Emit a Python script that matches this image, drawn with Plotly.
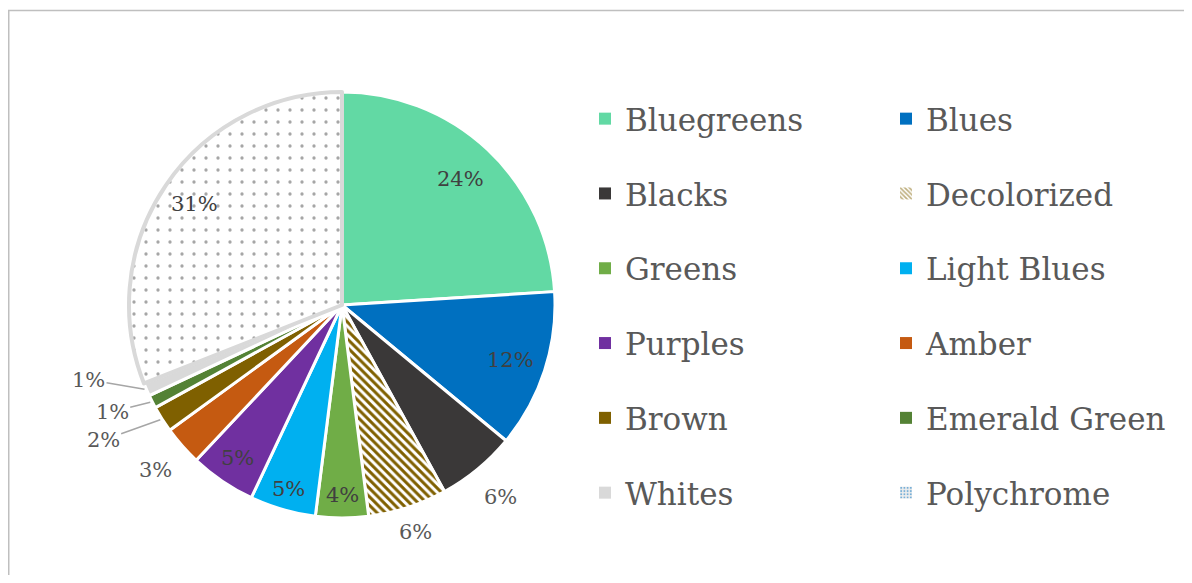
import math
import plotly.graph_objects as go

# ---- data ----
categories = ["Bluegreens", "Blues", "Blacks", "Decolorized", "Greens", "Light Blues",
              "Purples", "Amber", "Brown", "Emerald Green", "Whites", "Polychrome"]
shares = [24, 12, 6, 6, 4, 5, 5, 3, 2, 1, 1, 31]
colors = ["#62D9A4", "#0070C0", "#3A3838", "#FFFFFF", "#70AD47", "#00B0F0",
          "#7030A0", "#C55A11", "#7F6000", "#548235", "#D9D9D9", "#FFFFFF"]
patterns = ["", "", "", "\\", "", "", "", "", "", "", "", "."]
pattern_fg = ["#000000", "#000000", "#000000", "#7F6000", "#000000", "#000000",
              "#000000", "#000000", "#000000", "#000000", "#000000", "#A6A6A6"]
legend_cols = [0, 1] * 6  # row-major, two columns

# ---- label placement style (fraction of radius; None -> leader line) ----
label_radius = [0.81, 0.83, 1.17, 1.12, 0.89, 0.90, 0.87, 1.17, None, None, None, 0.84]
label_inside = [True, True, False, False, True, True, True, False, False, False, False, True]
leader_offsets = {8: (-59, 21), 9: (-40, 10), 10: (-58, -10)}  # text offset in px from slice edge

# ---- geometry (page body has an 8px margin) ----
W, H = 1176, 567
CX, CY, R = 334, 297, 213
ML, MR, MT, MB = CX - R, W - (CX + R), 0, 0
GW, GH = W - ML - MR, H - MT - MB


def px_x(p):
    return (p - ML) / GW


def px_y(p):
    return (H - MB - p) / GH


line_colors = ["#D9D9D9" if c == "Polychrome" else "#FFFFFF" for c in categories]
line_widths = [4 if c == "Polychrome" else 3 for c in categories]

fig = go.Figure()
fig.add_trace(go.Pie(
    labels=categories,
    values=shares,
    sort=False,
    direction="clockwise",
    rotation=0,
    marker=dict(
        colors=colors,
        line=dict(color=line_colors, width=line_widths),
        pattern=dict(shape=patterns, fgcolor=pattern_fg, bgcolor="#FFFFFF",
                     size=[6 if p == "\\" else 12 for p in patterns],
                     solidity=[0.5 if p == "\\" else 0.06 for p in patterns]),
    ),
    textinfo="none",
    domain=dict(x=[0, 1], y=[px_y(CY + R), px_y(CY - R)]),
    showlegend=False,
    hoverinfo="label+percent",
))

# ---- data labels, placed at each slice's mid-angle ----
total = sum(shares)
annotations = []
cum = 0
for i, v in enumerate(shares):
    theta = math.radians(360 * (cum + v / 2) / total)
    cum += v
    txt = f"{round(100 * v / total)}%"
    r = label_radius[i]
    if r is not None:
        annotations.append(dict(
            x=px_x(CX + r * R * math.sin(theta)), y=px_y(CY - r * R * math.cos(theta)),
            xref="paper", yref="paper", text=txt, showarrow=False,
            font=dict(family="DejaVu Serif", size=21,
                      color="#404040" if label_inside[i] else "#595959"),
            xanchor="center", yanchor="middle"))
    else:
        ax, ay = leader_offsets[i]
        annotations.append(dict(
            x=px_x(CX + R * math.sin(theta)), y=px_y(CY - R * math.cos(theta)),
            xref="paper", yref="paper", text=txt, showarrow=True,
            ax=ax, ay=ay, arrowhead=0, arrowwidth=1.5, arrowcolor="#A6A6A6",
            standoff=2, startstandoff=0,
            font=dict(family="DejaVu Serif", size=21, color="#595959")))

# ---- legend entries (legend-only traces carrying each category's swatch) ----
legend_pattern = {"Decolorized": dict(shape="\\", fgcolor="#7F6000", bgcolor="#FFFFFF",
                                      size=4, solidity=0.5),
                  "Polychrome": dict(shape=".", fgcolor="#0070C0", bgcolor="#EDEDED",
                                     size=4, solidity=0.3)}
for i, c in enumerate(categories):
    mk = dict(color=colors[i], line=dict(width=0))
    if c in legend_pattern:
        mk["pattern"] = legend_pattern[c]
    fig.add_trace(go.Bar(
        x=[None], y=[None], name=c, marker=mk,
        legend="legend" if legend_cols[i] == 0 else "legend2",
        legendgroup=c, showlegend=True, hoverinfo="skip",
    ))

leg_font = dict(family="DejaVu Serif", size=31, color="#595959")
fig.update_layout(
    width=W, height=H,
    margin=dict(l=ML, r=MR, t=MT, b=MB, autoexpand=False),
    paper_bgcolor="#FFFFFF", plot_bgcolor="#FFFFFF",
    xaxis=dict(visible=False), yaxis=dict(visible=False),
    legend=dict(x=px_x(577), y=px_y(84), xanchor="left", yanchor="top",
                orientation="v", font=leg_font, tracegroupgap=31.5,
                bgcolor="rgba(0,0,0,0)", itemclick=False, itemdoubleclick=False),
    legend2=dict(x=px_x(878), y=px_y(84), xanchor="left", yanchor="top",
                 orientation="v", font=leg_font, tracegroupgap=31.5,
                 bgcolor="rgba(0,0,0,0)", itemclick=False, itemdoubleclick=False),
    annotations=annotations,
    shapes=[dict(type="rect", xref="paper", yref="paper",
                 x0=px_x(0.75), x1=px_x(1300), y0=px_y(700), y1=px_y(2.5),
                 line=dict(color="#BFBFBF", width=1.5), fillcolor="rgba(0,0,0,0)",
                 layer="below")],
)

fig.write_html("out.html")
